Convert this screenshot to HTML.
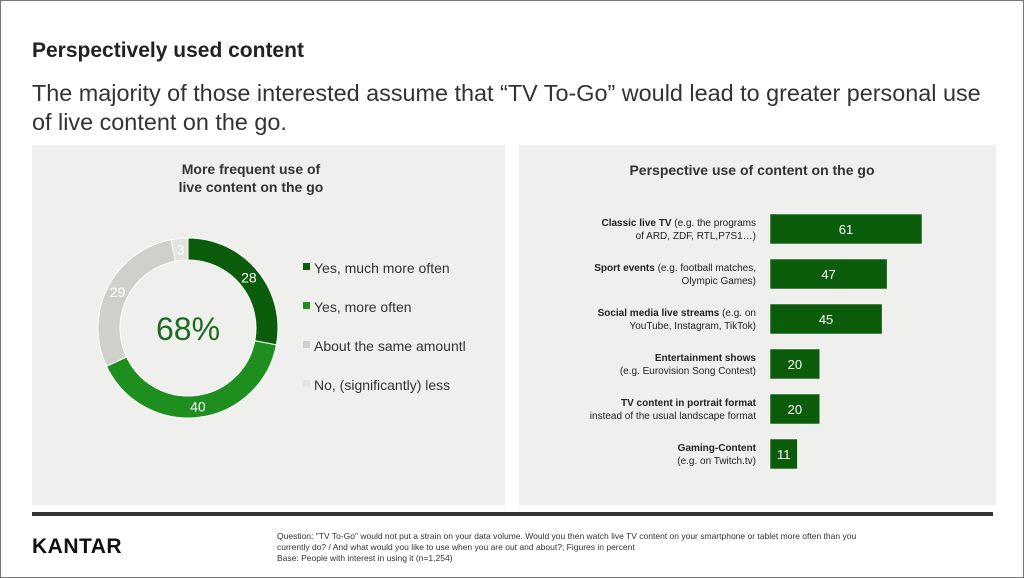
<!DOCTYPE html>
<html><head><meta charset="utf-8"><style>
body{margin:0;width:1024px;height:578px;background:#fff;font-family:"Liberation Sans",sans-serif;overflow:hidden;position:relative}
.frame{position:absolute;left:0;top:0;width:1022px;height:576px;border:1px solid #777}
.abs{position:absolute}
</style></head><body>
<div class="frame"></div>
<div class="abs" style="left:32px;top:39px;font-size:21px;font-weight:bold;color:#222">Perspectively used content</div>
<div class="abs" style="left:32px;top:79px;font-size:23.4px;line-height:29px;color:#333;width:960px">The majority of those interested assume that “TV To-Go” would lead to greater personal use of live content on the go.</div>
<div class="abs" style="left:32px;top:145px;width:473px;height:360px;background:#efefed"></div>
<div class="abs" style="left:519px;top:145px;width:477px;height:360px;background:#efefed"></div>
<div class="abs" style="left:32px;top:512px;width:961px;height:4px;background:#333"></div>
<div class="abs" style="left:32px;top:535px;font-size:21px;font-weight:bold;color:#111;letter-spacing:0.5px">KANTAR</div>
<div class="abs" style="left:277px;top:531px;font-size:8.5px;line-height:11px;color:#333;width:590px">Question: "TV To-Go" would not put a strain on your data volume. Would you then watch live TV content on your smartphone or tablet more often than you currently do? / And what would you like to use when you are out and about?; Figures in percent<br>Base: People with interest in using it (n=1,254)</div>
<svg class="abs" style="left:0;top:0" width="1024" height="578" id="chart">
<text x="251" y="174" text-anchor="middle" font-size="14" font-weight="bold" fill="#333">More frequent use of</text>
<text x="251" y="192" text-anchor="middle" font-size="14" font-weight="bold" fill="#333">live content on the go</text>
<text x="752" y="175" text-anchor="middle" font-size="14" font-weight="bold" fill="#333">Perspective use of content on the go</text>
<text x="188" y="340" text-anchor="middle" font-size="32" fill="#1d6b1d">68%</text>
<g id="donut"></g><g id="legend"></g><g id="bars"></g>
</svg>
<script>
const sliceLabels=["Yes, much more often","Yes, more often","About the same amountl","No, (significantly) less"];
const sliceValues=[28,40,29,3];
const sliceColors=["#0b5d0b","#1e8f1e","#cfcfcb","#e3e3e0"];
const barBold=["Classic live TV","Sport events","Social media live streams","Entertainment shows","TV content in portrait format","Gaming-Content"];
const barRest=[[" (e.g. the programs","of ARD, ZDF, RTL,P7S1…)"],[" (e.g. football matches,","Olympic Games)"],[" (e.g. on","YouTube, Instagram, TikTok)"],["","(e.g. Eurovision Song Contest)"],["","instead of the usual landscape format"],["","(e.g. on Twitch.tv)"]];
const barValues=[61,47,45,20,20,11];
const NS="http://www.w3.org/2000/svg";
function mk(t,a,p){const e=document.createElementNS(NS,t);for(const k in a)e.setAttribute(k,a[k]);p.appendChild(e);return e;}
const cx=188,cy=328,R=90,r=68;
const total=sliceValues.reduce((a,b)=>a+b,0);
let acc=0;
const dg=document.getElementById('donut');
sliceValues.forEach((v,i)=>{
  const a0=acc/total*2*Math.PI,a1=(acc+v)/total*2*Math.PI;acc+=v;
  const p=(rad,a)=>[cx+rad*Math.sin(a),cy-rad*Math.cos(a)];
  const [x0,y0]=p(R,a0),[x1,y1]=p(R,a1),[x2,y2]=p(r,a1),[x3,y3]=p(r,a0);
  const lg=(a1-a0)>Math.PI?1:0;
  const s=mk('path',{d:`M${x0},${y0}A${R},${R} 0 ${lg} 1 ${x1},${y1}L${x2},${y2}A${r},${r} 0 ${lg} 0 ${x3},${y3}Z`,fill:sliceColors[i],stroke:'#fff','stroke-width':1},dg);
  
  
  const am=(a0+a1)/2,[lx,ly]=p((R+r)/2,am);
  const t=mk('text',{x:lx,y:ly+5,'text-anchor':'middle','font-size':14,fill:'#fff'},dg);t.textContent=v;
  
  
});
const lgG=document.getElementById('legend');
sliceLabels.forEach((l,i)=>{
  const y=268+i*39;
  const sq=mk('rect',{x:303,y:y-5,width:7,height:7,fill:sliceColors[i]},lgG);
  
  
  const t=mk('text',{x:314,y:y+5,'font-size':14,fill:'#333'},lgG);t.textContent=l;
  
  
});
const bg=document.getElementById('bars');
const x0=770,scale=152/61;
barValues.forEach((v,i)=>{
  const y=214+i*45;
  const b=mk('rect',{x:x0,y:y,width:v*scale,height:30,fill:'#0b5d0b',stroke:'#fff','stroke-width':0.5},bg);
  
  
  const t=mk('text',{x:x0+v*scale/2,y:y+20,'text-anchor':'middle','font-size':13,fill:'#fff'},bg);t.textContent=v;
  
  
  const l1=mk('text',{x:756,y:y+12,'text-anchor':'end','font-size':10,fill:'#222'},bg);
  const bs=document.createElementNS(NS,'tspan');bs.setAttribute('font-weight','bold');bs.textContent=barBold[i];l1.appendChild(bs);
  if(barRest[i][0]){const rs=document.createElementNS(NS,'tspan');rs.textContent=barRest[i][0];l1.appendChild(rs);}
  
  
  const l2=mk('text',{x:756,y:y+25,'text-anchor':'end','font-size':10,fill:'#222'},bg);l2.textContent=barRest[i][1];
  
  
});
</script>
</body></html>
